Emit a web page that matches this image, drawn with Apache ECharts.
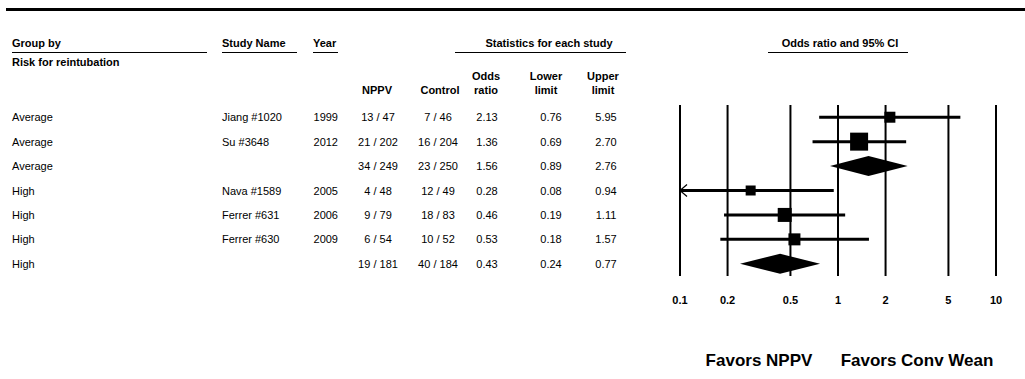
<!DOCTYPE html>
<html>
<head>
<meta charset="utf-8">
<script src="https://cdn.jsdelivr.net/npm/echarts@6/dist/echarts.min.js"></script>
<style>
  html, body { margin: 0; padding: 0; background: #fff; }
  #chart { width: 1025px; height: 379px; }
</style>
</head>
<body>
<div id="chart"></div>
<script>
// Study rows, top to bottom (summary rows have no study name / year)
const groups = ['Average', 'Average', 'Average', 'High', 'High', 'High', 'High'];
const studies = ['Jiang #1020', 'Su #3648', '', 'Nava #1589', 'Ferrer #631', 'Ferrer #630', ''];
const years = ['1999', '2012', '', '2005', '2006', '2009', ''];
const nppvEvents = [13, 21, 34, 4, 9, 6, 19];
const nppvTotal = [47, 202, 249, 48, 79, 54, 181];
const controlEvents = [7, 16, 23, 12, 18, 10, 40];
const controlTotal = [46, 204, 250, 49, 83, 52, 184];
const oddsRatio = [2.13, 1.36, 1.56, 0.28, 0.46, 0.53, 0.43];
const lowerLimit = [0.76, 0.69, 0.89, 0.08, 0.19, 0.18, 0.24];
const upperLimit = [5.95, 2.70, 2.76, 0.94, 1.11, 1.57, 0.77];
const isSummary = [false, false, true, false, false, false, true];

// Odds ratio axis ticks
const axisTicks = [0.1, 0.2, 0.5, 1, 2, 5, 10];
const axisTickLabels = ['0.1', '0.2', '0.5', '1', '2', '5', '10'];

// Drawing styles
const FONT = '11px "Liberation Sans", Arial, sans-serif';
const FONT_BOLD = 'bold 11px "Liberation Sans", Arial, sans-serif';
const FONT_FAVORS = 'bold 17px "Liberation Sans", Arial, sans-serif';
const BOX_SIZE = [11, 18, 0, 10, 14, 12, 0];   // study marker side, px
const DIAMOND_HALF_HEIGHT = 10;

// Table column anchors (x in px) and alignment
const COLUMNS = [
  { x: 12,  align: 'left',   get: i => groups[i] },
  { x: 222, align: 'left',   get: i => studies[i] },
  { x: 338, align: 'right',  get: i => years[i] },
  { x: 378, align: 'center', get: i => nppvEvents[i] + ' / ' + nppvTotal[i] },
  { x: 438, align: 'center', get: i => controlEvents[i] + ' / ' + controlTotal[i] },
  { x: 487, align: 'center', get: i => oddsRatio[i].toFixed(2) },
  { x: 551, align: 'center', get: i => lowerLimit[i].toFixed(2) },
  { x: 606, align: 'center', get: i => upperLimit[i].toFixed(2) }
];

const rowIndex = groups.map((_, i) => [1, i]);

function txt(text, x, y, align, font) {
  return { type: 'text', style: { text, x, y, align, verticalAlign: 'middle', font, fill: '#000' } };
}
function hline(x1, x2, y, w) {
  return { type: 'line', shape: { x1, y1: y, x2, y2: y }, style: { stroke: '#000', lineWidth: w } };
}

const headerGraphics = [
  hline(6, 1025, 9.5, 3),
  txt('Group by', 12, 43, 'left', FONT_BOLD), hline(12, 207, 52.5, 1),
  txt('Risk for reintubation', 12, 62, 'left', FONT_BOLD),
  txt('Study Name', 222, 43, 'left', FONT_BOLD), hline(222, 297, 52.5, 1),
  txt('Year', 313, 43, 'left', FONT_BOLD), hline(313, 338, 52.5, 1),
  txt('Statistics for each study', 549, 43, 'center', FONT_BOLD), hline(455, 626, 52.5, 1),
  txt('Odds ratio and 95% CI', 840, 43, 'center', FONT_BOLD), hline(768, 908, 52.5, 1),
  txt('NPPV', 377, 90, 'center', FONT_BOLD),
  txt('Control', 440, 90, 'center', FONT_BOLD),
  txt('Odds', 486, 76, 'center', FONT_BOLD), txt('ratio', 486, 90, 'center', FONT_BOLD),
  txt('Lower', 546, 76, 'center', FONT_BOLD), txt('limit', 546, 90, 'center', FONT_BOLD),
  txt('Upper', 603, 76, 'center', FONT_BOLD), txt('limit', 603, 90, 'center', FONT_BOLD),
  txt('Favors NPPV', 759, 360, 'center', FONT_FAVORS),
  txt('Favors Conv Wean', 917, 360, 'center', FONT_FAVORS)
];

const chart = echarts.init(document.getElementById('chart'), null, { renderer: 'svg' });

chart.setOption({
  animation: false,
  backgroundColor: '#fff',
  grid: { left: 680, width: 316, top: 105, height: 171, containLabel: false },
  xAxis: { type: 'log', logBase: 10, min: 0.1, max: 10, show: false },
  yAxis: { type: 'value', min: -0.5, max: 6.5, inverse: true, show: false },
  graphic: headerGraphics,
  series: [
    {
      // vertical reference lines and their tick labels
      type: 'custom',
      data: axisTicks.map((v, i) => [v, i]),
      renderItem: (params, api) => {
        const v = api.value(0);
        const k = api.value(1);
        const top = api.coord([v, -0.5]);
        const bottom = api.coord([v, 6.5]);
        return {
          type: 'group',
          children: [
            { type: 'line', shape: { x1: top[0], y1: top[1], x2: bottom[0], y2: bottom[1] },
              style: { stroke: '#000', lineWidth: 2 } },
            txt(axisTickLabels[k], top[0], bottom[1] + 24, 'center', FONT_BOLD)
          ]
        };
      }
    },
    {
      // confidence intervals with study squares / summary diamonds
      type: 'custom',
      clip: false,
      data: oddsRatio.map((v, i) => [v, i, lowerLimit[i], upperLimit[i]]),
      renderItem: (params, api) => {
        const i = api.value(1);
        const axisMin = 0.1;
        const lo = api.value(2);
        const hi = api.value(3);
        const c = api.coord([api.value(0), i]);
        const pLo = api.coord([Math.max(lo, axisMin), i]);
        const pHi = api.coord([hi, i]);
        const children = [];
        if (isSummary[i]) {
          const h = DIAMOND_HALF_HEIGHT;
          children.push({
            type: 'polygon',
            shape: { points: [[pLo[0], c[1]], [c[0], c[1] - h], [pHi[0], c[1]], [c[0], c[1] + h]] },
            style: { fill: '#000' }
          });
        } else {
          children.push({ type: 'line', shape: { x1: pLo[0], y1: c[1], x2: pHi[0], y2: c[1] },
            style: { stroke: '#000', lineWidth: 3 } });
          if (lo < axisMin) {
            children.push({ type: 'polyline',
              shape: { points: [[pLo[0] + 7, c[1] - 6], [pLo[0], c[1]], [pLo[0] + 7, c[1] + 6]] },
              style: { stroke: '#000', lineWidth: 1.2, fill: null } });
          }
          const s = BOX_SIZE[i];
          children.push({ type: 'rect', shape: { x: c[0] - s / 2, y: c[1] - s / 2, width: s, height: s },
            style: { fill: '#000' } });
        }
        return { type: 'group', children };
      }
    },
    {
      // table text, one row per study / summary
      type: 'custom',
      clip: false,
      data: rowIndex,
      renderItem: (params, api) => {
        const i = api.value(1);
        const y = api.coord([1, i])[1];
        return {
          type: 'group',
          children: COLUMNS.map(col => txt(col.get(i), col.x, y, col.align, FONT))
        };
      }
    }
  ]
});
</script>
</body>
</html>
